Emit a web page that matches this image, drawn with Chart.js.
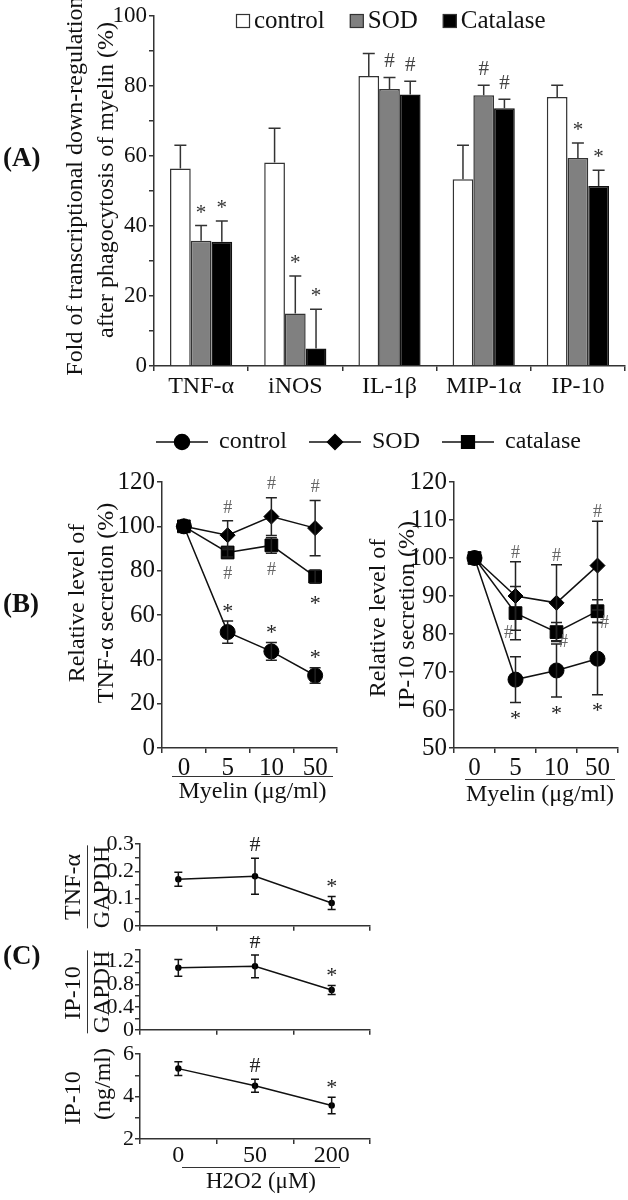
<!DOCTYPE html>
<html>
<head>
<meta charset="utf-8">
<script src="https://cdn.jsdelivr.net/npm/chart.js@4.4.1/dist/chart.umd.min.js"></script>
<style>
  html, body { margin:0; padding:0; background:#fff; }
  #fig { position:relative; width:628px; height:1200px; overflow:hidden; background:#fff;
         font-family:'Liberation Serif','Times New Roman',serif; color:#111; }
  canvas { position:absolute; }
  .vt { position:absolute; white-space:nowrap; line-height:1; transform:translate(-50%,-50%) rotate(-90deg); }
  .plab { position:absolute; font-weight:bold; font-size:27px; transform:translateY(-50%); line-height:1; }
  .xt { position:absolute; text-align:center; border-top:1.5px solid #333; line-height:1.1; white-space:nowrap; }
  .ov { border-top:1.5px solid #333; padding-top:1px; }
</style>
</head>
<body>
<div id="fig">
  <canvas id="cA" width="628" height="400" style="left:0;top:0"></canvas>
  <canvas id="cB1" width="628" height="360" style="left:0;top:420px"></canvas>
  <canvas id="cB2" width="278" height="320" style="left:350px;top:460px"></canvas>
  <canvas id="cC1" width="380" height="110" style="left:0;top:830px"></canvas>
  <canvas id="cC2" width="380" height="108" style="left:0;top:936px"></canvas>
  <canvas id="cC3" width="380" height="130" style="left:0;top:1040px"></canvas>

  <div class="plab" style="left:3px;top:157px">(A)</div>
  <div class="plab" style="left:3px;top:603px">(B)</div>
  <div class="plab" style="left:3px;top:955px">(C)</div>

  <div class="vt" style="left:74px;top:186px;font-size:24px">Fold of transcriptional down-regulation</div>
  <div class="vt" style="left:105px;top:180px;font-size:24px">after phagocytosis of myelin (%)</div>

  <div class="vt" style="left:76px;top:603px;font-size:24px">Relative level of</div>
  <div class="vt" style="left:105px;top:603px;font-size:24px">TNF-α secretion (%)</div>
  <div class="vt" style="left:377px;top:618px;font-size:24px">Relative level of</div>
  <div class="vt" style="left:406px;top:615px;font-size:24px">IP-10 secretion (%)</div>

  <div class="xt" style="left:172px;top:776px;width:161px;font-size:24px">Myelin (μg/ml)</div>
  <div class="xt" style="left:465px;top:779px;width:150px;font-size:24px">Myelin (μg/ml)</div>

  <div class="vt" style="left:72px;top:887px;font-size:24px">TNF-α</div>
  <div class="vt ov" style="left:100px;top:887px;font-size:24px">GAPDH</div>
  <div class="vt" style="left:72px;top:993px;font-size:24px">IP-10</div>
  <div class="vt ov" style="left:100px;top:992px;font-size:24px">GAPDH</div>
  <div class="vt" style="left:72px;top:1098px;font-size:24px">IP-10</div>
  <div class="vt" style="left:102px;top:1084px;font-size:24px">(ng/ml)</div>

  <div class="xt" style="left:182px;top:1167px;width:158px;font-size:23px">H2O2 (μM)</div>
</div>
<script>
// ---------------- DATA ----------------
// Panel A
const categoriesA = ['TNF-α', 'iNOS', 'IL-1β', 'MIP-1α', 'IP-10'];
const controlA = [56.4, 58.1, 82.8, 53.3, 76.8];
const controlAErr = [6.6, 9.8, 6.4, 9.7, 3.4];
const sodA = [35.8, 15.0, 79.1, 77.3, 59.4];
const sodAErr = [4.3, 10.7, 3.3, 2.9, 4.3];
const catalaseA = [35.5, 5.0, 77.5, 73.6, 51.4];
const catalaseAErr = [5.9, 11.2, 3.8, 2.6, 4.5];
const sodAMarks = ['*', '*', '#', '#', '*'];
const catalaseAMarks = ['*', '*', '#', '#', '*'];
const yTicksA = [0, 20, 40, 60, 80, 100];

// Panel B
const myelinDoses = ['0', '5', '10', '50'];
const controlTnf = [100, 52.3, 43.6, 32.7];
const controlTnfErr = [0, 5.0, 4.0, 3.5];
const sodTnf = [100, 96.0, 104.4, 99.2];
const sodTnfErr = [0, 6.5, 8.5, 12.5];
const catalaseTnf = [100, 88.2, 91.4, 77.3];
const catalaseTnfErr = [0, 2.0, 3.5, 3.0];
const controlTnfMarks = ['', '*', '*', '*'];
const sodTnfMarks = ['', '#', '#', '#'];
const catalaseTnfMarks = ['', '#', '#', '*'];

const controlIp10 = [100, 68.0, 70.4, 73.5];
const controlIp10Err = [0, 6.0, 7.0, 9.5];
const sodIp10 = [100, 90.0, 88.2, 98.0];
const sodIp10Err = [0, 9.0, 10.0, 11.7];
const catalaseIp10 = [100, 85.5, 80.5, 86.0];
const catalaseIp10Err = [0, 7.0, 2.5, 3.0];
const controlIp10Marks = ['', '*', '*', '*'];
const sodIp10Marks = ['', '#', '#', '#'];
const catalaseIp10Marks = ['', '#', '#', '#'];

// Panel C
const h2o2Doses = ['0', '50', '200'];
const tnfGapdh = [0.171, 0.182, 0.084];
const tnfGapdhErr = [0.026, 0.066, 0.024];
const ip10Gapdh = [1.09, 1.117, 0.70];
const ip10GapdhErr = [0.147, 0.2, 0.08];
const ip10Protein = [5.32, 4.51, 3.58];
const ip10ProteinErr = [0.32, 0.31, 0.39];
const cMarks = ['', '#', '*'];
const yTicksC1 = [0, 0.1, 0.2, 0.3];
const yTicksC2 = [0, 0.4, 0.8, 1.2];
const yTicksC3 = [2, 4, 6];

// ---------------- STYLE / PLUGINS ----------------
const FONT = "'Liberation Serif', 'Times New Roman', serif";
const AX = '#333';

const errorBars = {
  id: 'errorBars',
  afterDatasetsDraw(chart, args, o) {
    const ctx = chart.ctx, ys = chart.scales.y;
    chart.data.datasets.forEach((ds, di) => {
      if (!ds.errors) return;
      const meta = chart.getDatasetMeta(di);
      meta.data.forEach((el, i) => {
        const v = ds.data[i], e = ds.errors[i];
        if (!e) return;
        const x = el.x;
        const yt = ys.getPixelForValue(v + e);
        const yb = o.upperOnly ? ys.getPixelForValue(v) : ys.getPixelForValue(v - e);
        ctx.save();
        ctx.strokeStyle = o.color; ctx.lineWidth = o.width;
        ctx.beginPath();
        ctx.moveTo(x, yb); ctx.lineTo(x, yt);
        ctx.moveTo(x - o.cap / 2, yt); ctx.lineTo(x + o.cap / 2, yt);
        if (!o.upperOnly) { ctx.moveTo(x - o.cap / 2, yb); ctx.lineTo(x + o.cap / 2, yb); }
        ctx.stroke();
        ctx.restore();
      });
    });
  }
};

const marks = {
  id: 'marks',
  afterDatasetsDraw(chart, args, o) {
    const ctx = chart.ctx, ys = chart.scales.y;
    chart.data.datasets.forEach((ds, di) => {
      if (!ds.marks) return;
      const meta = chart.getDatasetMeta(di);
      ds.marks.forEach((m, i) => {
        if (!m) return;
        const el = meta.data[i];
        const v = ds.data[i], e = (ds.errors || [])[i] || 0;
        const pos = (ds.markPos && ds.markPos[i]) || 'above';
        let px = el.x, py;
        if (pos === 'above') py = ys.getPixelForValue(v + e) - o.gapAbove;
        else if (pos === 'below') py = ys.getPixelForValue(v - e) + o.gapBelow;
        else if (pos === 'lowerLeft') { py = ys.getPixelForValue(v - e) - 6; px -= o.side; }
        else { py = ys.getPixelForValue(v - e) + 1; px += o.side; }
        const star = m === '*';
        const size = star ? o.starSize : o.hashSize;
        ctx.save();
        ctx.font = size + 'px ' + FONT;
        ctx.fillStyle = star ? o.starColor : o.hashColor;
        ctx.textAlign = 'center'; ctx.textBaseline = 'middle';
        ctx.fillText(m, px, py + (star ? size * 0.17 : 0));
        ctx.restore();
      });
    });
  }
};

const boxLegend = {
  id: 'boxLegend',
  afterDraw(chart, args, o) {
    if (!o || !o.show) return;
    const ctx = chart.ctx; let x = o.x;
    ctx.save();
    ctx.font = o.size + 'px ' + FONT; ctx.textBaseline = 'middle'; ctx.textAlign = 'left';
    chart.data.datasets.forEach(ds => {
      ctx.fillStyle = ds.backgroundColor;
      ctx.fillRect(x, o.y - o.box / 2, o.box, o.box);
      ctx.strokeStyle = AX; ctx.lineWidth = 1.2;
      ctx.strokeRect(x + 0.5, o.y - o.box / 2 + 0.5, o.box - 1, o.box - 1);
      x += o.box + o.gap;
      ctx.fillStyle = '#111';
      ctx.fillText(ds.label, x, o.y);
      x += ctx.measureText(ds.label).width + o.itemGap;
    });
    ctx.restore();
  }
};

const lineLegend = {
  id: 'lineLegend',
  afterDraw(chart, args, o) {
    if (!o || !o.show) return;
    const ctx = chart.ctx; let x = o.x;
    ctx.save();
    ctx.font = o.size + 'px ' + FONT; ctx.textBaseline = 'middle'; ctx.textAlign = 'left';
    chart.data.datasets.forEach(ds => {
      ctx.strokeStyle = '#111'; ctx.lineWidth = 1.5;
      ctx.beginPath(); ctx.moveTo(x, o.y); ctx.lineTo(x + o.line, o.y); ctx.stroke();
      ctx.fillStyle = '#000'; ctx.strokeStyle = '#000';
      Chart.helpers.drawPoint(ctx, { pointStyle: ds.pointStyle, radius: ds.pointRadius, rotation: 0, borderWidth: 1 }, x + o.line / 2, o.y);
      x += o.line + o.gap;
      ctx.fillStyle = '#111';
      ctx.fillText(ds.label, x, o.y);
      x += ctx.measureText(ds.label).width + o.itemGap;
    });
    ctx.restore();
  }
};

function axisGrid() {
  return { drawOnChartArea: false, drawTicks: true, tickLength: 5, color: AX, lineWidth: 1.5 };
}
function labelsFrom(list) {
  return function (v) {
    for (const t of list) if (Math.abs(t - v) < 1e-6) return String(t);
    return '';
  };
}
function baseOpts(pad) {
  return {
    animation: false, responsive: false, devicePixelRatio: 1,
    layout: { padding: pad },
    plugins: { legend: { display: false }, tooltip: { enabled: false } },
    elements: { line: { tension: 0 } }
  };
}

// ---------------- PANEL A ----------------
{
  const o = baseOpts({ left: 0, right: 3, top: 15, bottom: 0 });
  o.categoryPercentage = 0.66; o.barPercentage = 1.0;
  o.scales = {
    x: { grid: Object.assign(axisGrid(), { offset: true }), border: { color: AX, width: 1.5 },
         ticks: { font: { family: FONT, size: 24 }, color: '#111', padding: 1, autoSkip: false, maxRotation: 0 },
         afterFit(s) { s.height = 34; } },
    y: { min: 0, max: 100, grid: axisGrid(), border: { color: AX, width: 1.5 },
         ticks: { stepSize: 10, autoSkip: false, callback: labelsFrom(yTicksA), font: { family: FONT, size: 23 }, color: '#111', padding: 2 },
         afterFit(s) { s.width = 154; } }
  };
  Object.assign(o.plugins, {
    errorBars: { upperOnly: true, cap: 12, color: '#333', width: 1.5 },
    marks: { gapAbove: 16, gapBelow: 16, side: 0, starSize: 21, hashSize: 21, starColor: '#333', hashColor: '#444' },
    boxLegend: { show: true, x: 236, y: 21, box: 14, gap: 4, itemGap: 25, size: 25 }
  });
  new Chart(document.getElementById('cA'), {
    type: 'bar',
    data: { labels: categoriesA, datasets: [
      { label: 'control', data: controlA, errors: controlAErr, backgroundColor: '#ffffff', borderColor: AX, borderWidth: 1.5 },
      { label: 'SOD', data: sodA, errors: sodAErr, marks: sodAMarks, backgroundColor: '#808080', borderColor: AX, borderWidth: 1.5 },
      { label: 'Catalase', data: catalaseA, errors: catalaseAErr, marks: catalaseAMarks, backgroundColor: '#000000', borderColor: '#111', borderWidth: 1.5 }
    ] },
    options: o,
    plugins: [errorBars, marks, boxLegend]
  });
}

// ---------------- PANEL B ----------------
function lineDatasets(c, ce, cm, s, se, sm, k, ke, km, posC, posK) {
  const common = { borderColor: '#111', borderWidth: 1.5, pointBackgroundColor: '#000', pointBorderColor: '#000', pointBorderWidth: 1, fill: false };
  return [
    Object.assign({ label: 'control', data: c, errors: ce, marks: cm, markPos: posC, pointStyle: 'circle', pointRadius: 7.5 }, common),
    Object.assign({ label: 'SOD', data: s, errors: se, marks: sm, pointStyle: 'rectRot', pointRadius: 7.5 }, common),
    Object.assign({ label: 'catalase', data: k, errors: ke, marks: km, markPos: posK, pointStyle: 'rect', pointRadius: 9 }, common)
  ];
}
function bScales(min, max, step, yW) {
  return {
    x: { offset: true, grid: Object.assign(axisGrid(), { offset: true }), border: { color: AX, width: 1.5 },
         ticks: { font: { family: FONT, size: 25 }, color: '#111', padding: 0, autoSkip: false, maxRotation: 0 },
         afterFit(s) { s.height = 32; } },
    y: { min: min, max: max, grid: axisGrid(), border: { color: AX, width: 1.5 },
         ticks: { stepSize: step, autoSkip: false, font: { family: FONT, size: 25 }, color: '#111', padding: 2 },
         afterFit(s) { s.width = yW; } }
  };
}
{
  const o = baseOpts({ left: 0, right: 291, top: 62, bottom: 0 });
  o.scales = bScales(0, 120, 20, 162);
  Object.assign(o.plugins, {
    errorBars: { upperOnly: false, cap: 11, color: '#222', width: 1.5 },
    marks: { gapAbove: 13, gapBelow: 17, side: 0, starSize: 22, hashSize: 18, starColor: '#222', hashColor: '#666' },
    lineLegend: { show: true, x: 156, y: 22, line: 52, gap: 11, itemGap: 22, size: 24 }
  });
  new Chart(document.getElementById('cB1'), {
    type: 'line',
    data: { labels: myelinDoses, datasets: lineDatasets(controlTnf, controlTnfErr, controlTnfMarks, sodTnf, sodTnfErr, sodTnfMarks,
      catalaseTnf, catalaseTnfErr, catalaseTnfMarks, ['', 'above', 'above', 'above'], ['', 'below', 'below', 'below']) },
    options: o,
    plugins: [errorBars, marks, lineLegend]
  });
}
{
  const o = baseOpts({ left: 0, right: 5, top: 22, bottom: 0 });
  o.scales = bScales(50, 120, 10, 104);
  Object.assign(o.plugins, {
    errorBars: { upperOnly: false, cap: 11, color: '#222', width: 1.5 },
    marks: { gapAbove: 9, gapBelow: 13, side: 7, starSize: 22, hashSize: 18, starColor: '#222', hashColor: '#666' }
  });
  new Chart(document.getElementById('cB2'), {
    type: 'line',
    data: { labels: myelinDoses, datasets: lineDatasets(controlIp10, controlIp10Err, controlIp10Marks, sodIp10, sodIp10Err, sodIp10Marks,
      catalaseIp10, catalaseIp10Err, catalaseIp10Marks, ['', 'below', 'below', 'below'], ['', 'lowerLeft', 'lowerRight', 'lowerRight']) },
    options: o,
    plugins: [errorBars, marks]
  });
}

// ---------------- PANEL C ----------------
function cChart(id, data, err, min, max, step, tickList, xH, showX, padTop) {
  const o = baseOpts({ left: 0, right: 10, top: padTop, bottom: 0 });
  o.scales = {
    x: { offset: true, grid: Object.assign(axisGrid(), { offset: true }), border: { color: AX, width: 1.5 },
         ticks: { display: showX, autoSkip: false, maxRotation: 0, font: { family: FONT, size: 24 }, color: '#111', padding: -3 },
         afterFit(s) { s.height = xH; } },
    y: { min: min, max: max, grid: axisGrid(), border: { color: AX, width: 1.5 },
         ticks: { stepSize: step, autoSkip: false, callback: labelsFrom(tickList), font: { family: FONT, size: 22 }, color: '#111', padding: 1 },
         afterFit(s) { s.width = 140; } }
  };
  Object.assign(o.plugins, {
    errorBars: { upperOnly: false, cap: 8, color: '#111', width: 1.5 },
    marks: { gapAbove: 13, gapBelow: 13, side: 0, starSize: 22, hashSize: 22, starColor: '#222', hashColor: '#222' }
  });
  new Chart(document.getElementById(id), {
    type: 'line',
    data: { labels: h2o2Doses, datasets: [
      { label: 'H2O2', data: data, errors: err, marks: cMarks, borderColor: '#111', borderWidth: 1.5,
        pointStyle: 'circle', pointRadius: 2.5, pointBackgroundColor: '#000', pointBorderColor: '#000', fill: false }
    ] },
    options: o,
    plugins: [errorBars, marks]
  });
}
cChart('cC1', tnfGapdh, tnfGapdhErr, 0, 0.3, 0.05, yTicksC1, 11, false, 13);
cChart('cC2', ip10Gapdh, ip10GapdhErr, 0, 1.4, 0.2, yTicksC2, 11, false, 13);
cChart('cC3', ip10Protein, ip10ProteinErr, 2, 6, 1, yTicksC3, 31, true, 13);
</script>
</body>
</html>
